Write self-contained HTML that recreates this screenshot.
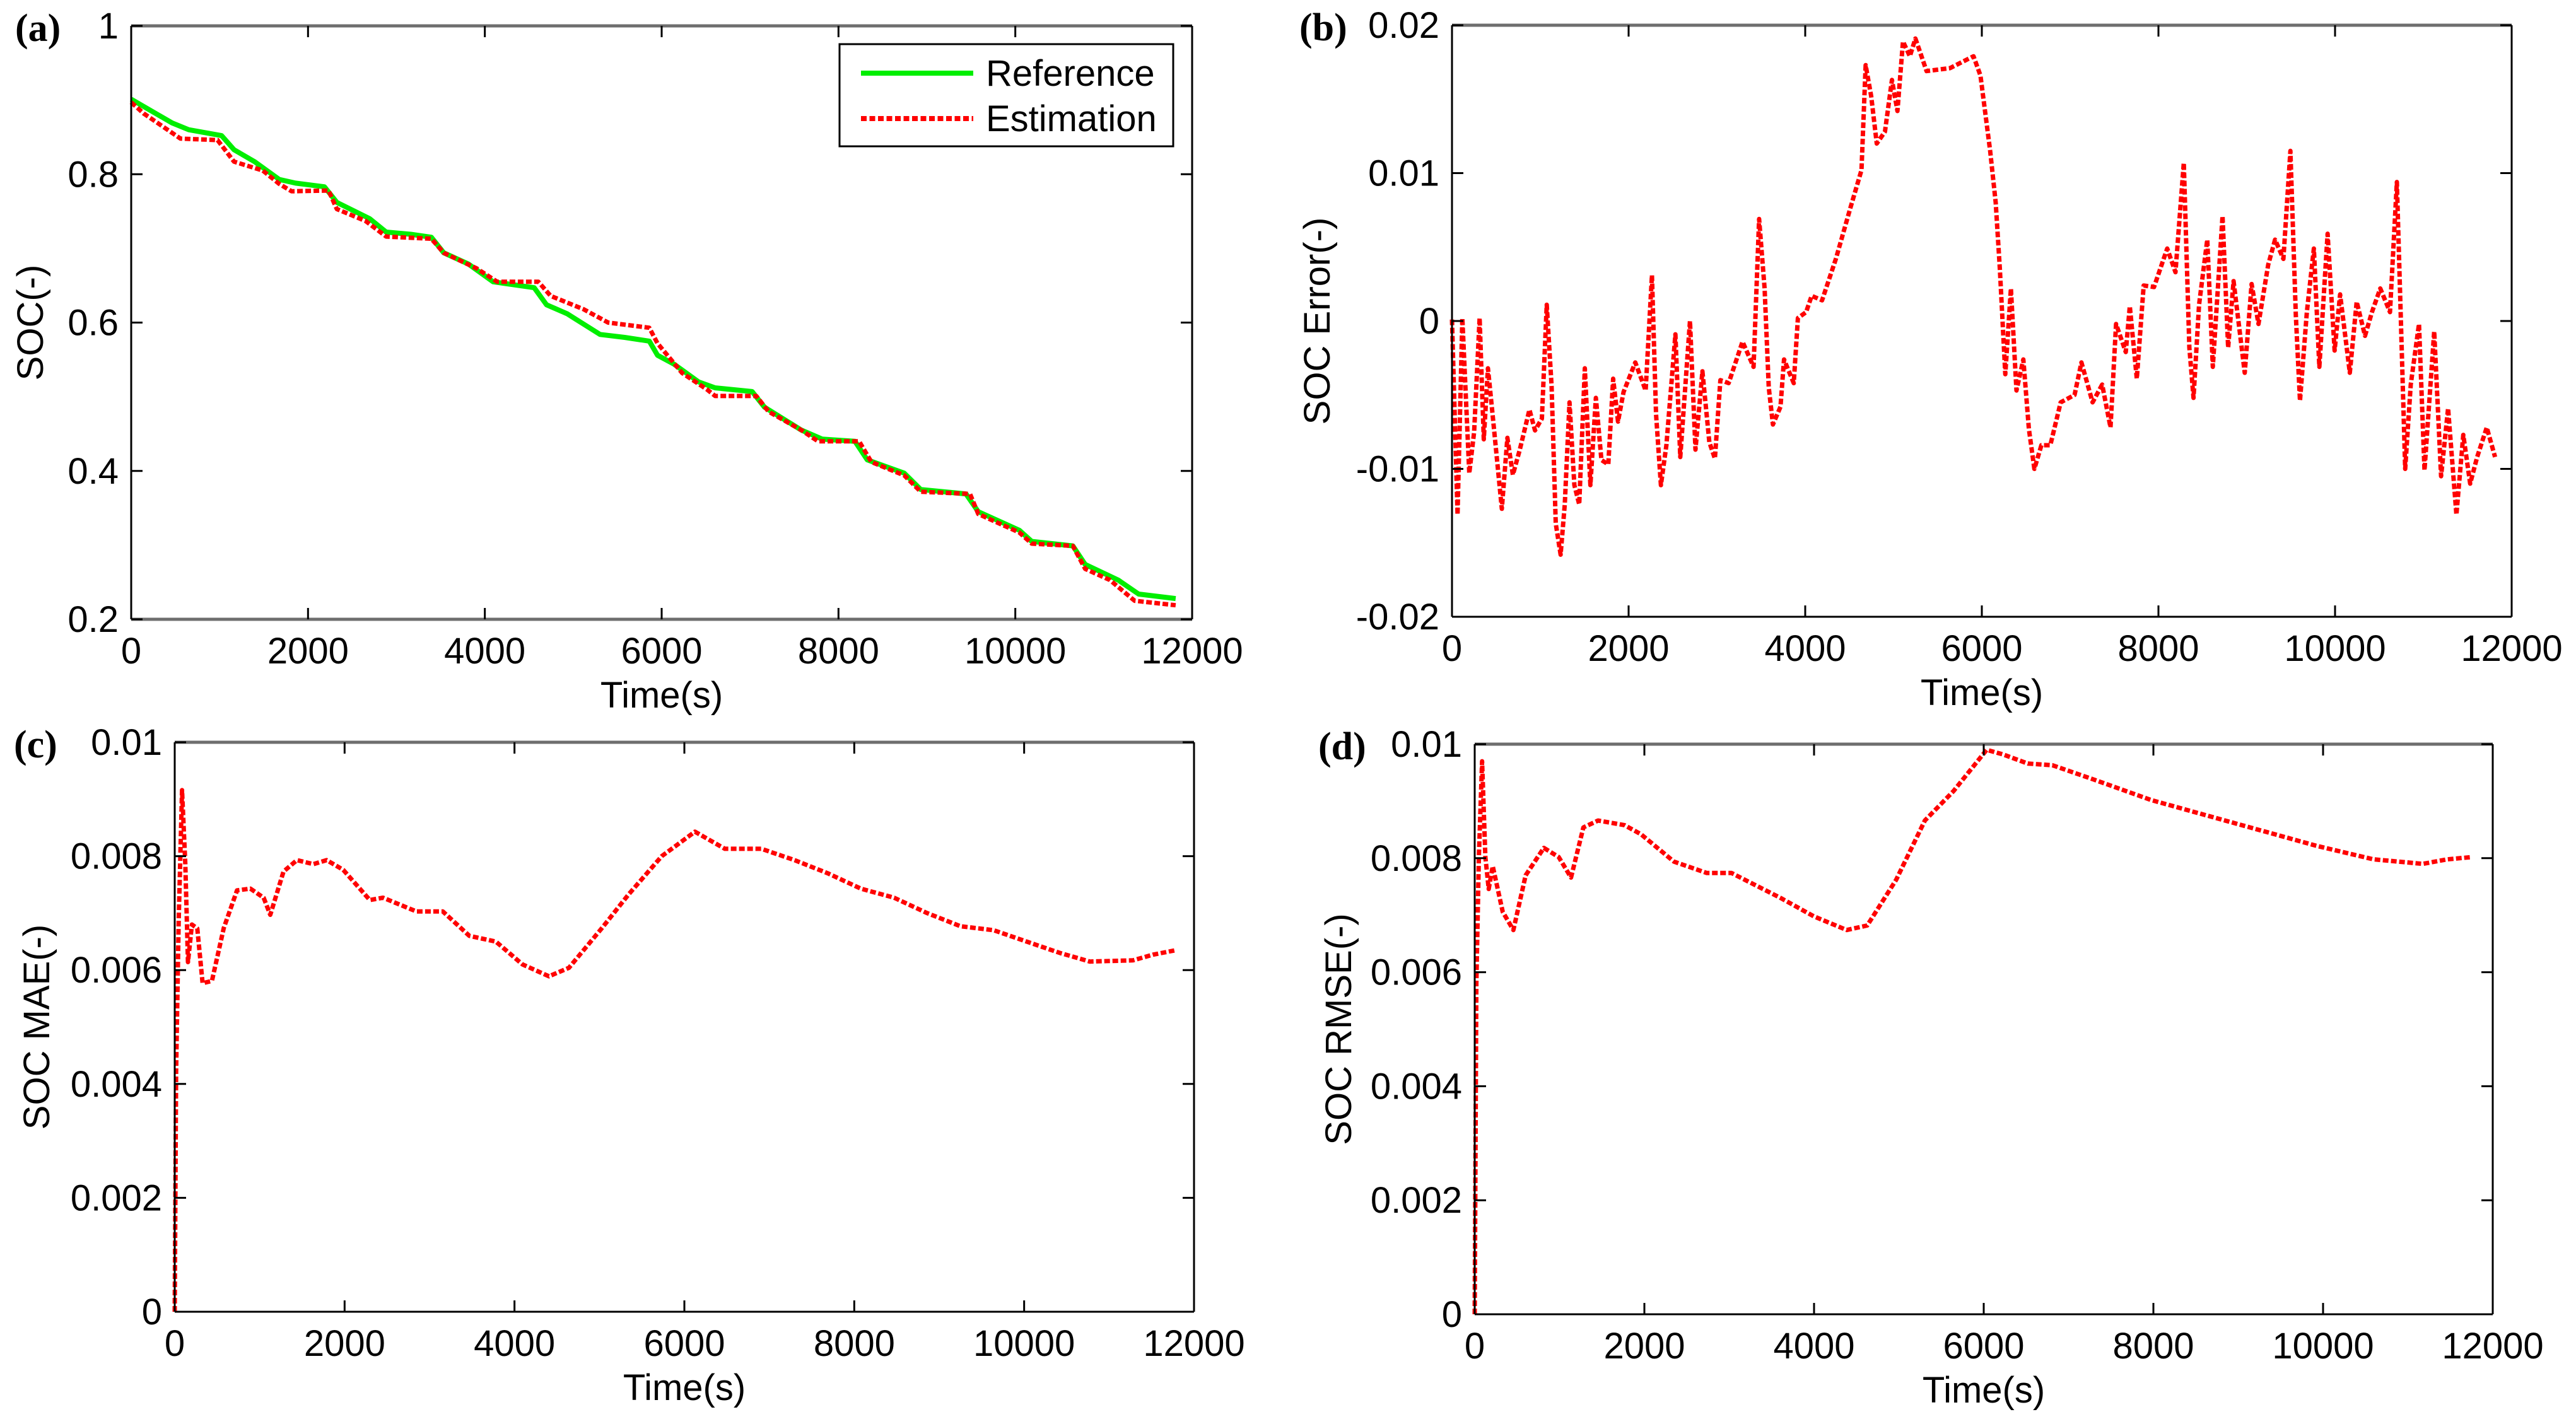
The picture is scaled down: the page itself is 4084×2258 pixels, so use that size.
<!DOCTYPE html>
<html><head><meta charset="utf-8"><style>
html,body{margin:0;padding:0;background:#fff;}
svg{display:block;}
text{font-family:"Liberation Sans",Arial,sans-serif;fill:#000;}
.pl{font-family:"Liberation Serif","Times New Roman",serif;font-weight:bold;}
</style></head><body>
<svg id="fig" width="4084" height="2258" viewBox="0 0 4084 2258" xmlns="http://www.w3.org/2000/svg"></svg>
<script>
// ---- data ----
const xTicks = [0,2000,4000,6000,8000,10000,12000];
const xTickLabels = ["0","2000","4000","6000","8000","10000","12000"];
const socTicks = [0.2,0.4,0.6,0.8,1];
const socTickLabels = ["0.2","0.4","0.6","0.8","1"];
const errTicks = [-0.02,-0.01,0,0.01,0.02];
const errTickLabels = ["-0.02","-0.01","0","0.01","0.02"];
const metricTicks = [0,0.002,0.004,0.006,0.008,0.01];
const metricTickLabels = ["0","0.002","0.004","0.006","0.008","0.01"];

const refTime = [0,465,651,1023,1163,1395,1674,1860,2186,2326,2698,2884,3163,3395,3535,3814,4093,4558,4698,4930,5302,5581,5860,5953,6139,6418,6605,7023,7163,7582,7814,8186,8325,8744,8930,9442,9581,10046,10186,10651,10790,11163,11395,11814];
const refSoc = [0.901,0.869,0.860,0.852,0.833,0.817,0.793,0.788,0.783,0.762,0.740,0.722,0.719,0.715,0.694,0.679,0.655,0.647,0.624,0.612,0.584,0.580,0.575,0.556,0.544,0.520,0.512,0.507,0.486,0.455,0.443,0.440,0.415,0.397,0.375,0.369,0.345,0.320,0.305,0.299,0.274,0.253,0.234,0.228];
const estTime = [0,140,558,977,1163,1488,1674,1814,2232,2326,2651,2884,3395,3535,3907,4140,4605,4744,5116,5395,5860,5953,6232,6511,6605,7070,7209,7582,7767,8233,8372,8744,8930,9488,9581,10046,10186,10651,10790,11070,11349,11814];
const estSoc = [0.897,0.882,0.848,0.846,0.817,0.805,0.787,0.777,0.778,0.753,0.737,0.716,0.713,0.694,0.673,0.655,0.655,0.636,0.618,0.600,0.593,0.572,0.532,0.510,0.501,0.501,0.480,0.455,0.440,0.440,0.412,0.394,0.372,0.369,0.342,0.317,0.302,0.299,0.268,0.253,0.225,0.219];

const errTime = [0,63,117,196,251,313,360,407,454,564,627,689,768,877,940,1018,1073,1128,1175,1230,1277,1331,1386,1441,1504,1567,1629,1692,1770,1825,1880,1943,2076,2193,2264,2311,2366,2428,2530,2585,2695,2757,2836,2914,2977,3039,3133,3290,3415,3478,3540,3587,3634,3720,3760,3870,3917,4010,4073,4191,4347,4504,4637,4684,4747,4810,4903,4982,5044,5107,5185,5248,5374,5640,5906,5984,6094,6157,6204,6266,6329,6392,6470,6533,6595,6674,6776,6893,7050,7128,7254,7363,7457,7520,7630,7676,7755,7833,7950,8099,8193,8287,8350,8397,8460,8553,8616,8726,8789,8851,8977,9055,9133,9243,9321,9415,9494,9556,9603,9681,9760,9822,9916,9995,10057,10167,10245,10339,10418,10512,10622,10700,10794,10857,10951,11013,11123,11201,11280,11374,11452,11530,11609,11718,11812];
const errVal = [0.0001,-0.0131,0.0002,-0.0103,-0.0075,0.0002,-0.0080,-0.0032,-0.0060,-0.0127,-0.0079,-0.0104,-0.0087,-0.0060,-0.0074,-0.0066,0.0011,-0.0044,-0.0137,-0.0158,-0.0124,-0.0055,-0.0111,-0.0124,-0.0032,-0.0111,-0.0052,-0.0094,-0.0097,-0.0039,-0.0068,-0.0048,-0.0028,-0.0047,0.0031,-0.0063,-0.0111,-0.0084,-0.0009,-0.0092,0.0000,-0.0087,-0.0034,-0.0082,-0.0093,-0.0040,-0.0042,-0.0014,-0.0031,0.0069,0.0022,-0.0045,-0.0070,-0.0058,-0.0026,-0.0042,0.0002,0.0006,0.0017,0.0014,0.0042,0.0075,0.0102,0.0173,0.0152,0.0120,0.0128,0.0163,0.0142,0.0189,0.0179,0.0191,0.0169,0.0171,0.0179,0.0166,0.0115,0.0080,0.0035,-0.0036,0.0022,-0.0047,-0.0026,-0.0073,-0.0100,-0.0084,-0.0084,-0.0055,-0.0050,-0.0028,-0.0055,-0.0043,-0.0072,-0.0002,-0.0021,0.0010,-0.0039,0.0024,0.0023,0.0049,0.0033,0.0107,-0.0018,-0.0052,0.0011,0.0055,-0.0031,0.0071,-0.0018,0.0027,-0.0035,0.0025,-0.0002,0.0038,0.0055,0.0042,0.0115,0.0004,-0.0054,0.0006,0.0049,-0.0031,0.0059,-0.0020,0.0018,-0.0035,0.0013,-0.0010,0.0006,0.0022,0.0006,0.0094,-0.0100,-0.0043,-0.0002,-0.0101,-0.0007,-0.0105,-0.0059,-0.0131,-0.0077,-0.0110,-0.0092,-0.0072,-0.0092];

const maeTime = [0,16,47,86,125,156,203,266,328,438,578,734,891,1047,1125,1281,1438,1633,1789,1984,2297,2453,2844,3156,3469,3781,4094,4406,4641,5031,5344,5734,6125,6477,6906,7297,7688,8078,8469,8859,9250,9641,10031,10422,10773,11281,11516,11789];
const maeVal = [0,0.00421,0.00687,0.00916,0.00786,0.00614,0.00680,0.00673,0.00577,0.00581,0.00674,0.00740,0.00743,0.00727,0.00697,0.00773,0.00793,0.00786,0.00793,0.00776,0.00723,0.00727,0.00703,0.00703,0.00660,0.00650,0.00610,0.00589,0.00604,0.00674,0.00733,0.00800,0.00843,0.00813,0.00813,0.00793,0.00770,0.00743,0.00727,0.00700,0.00677,0.00670,0.00650,0.00630,0.00615,0.00617,0.00627,0.00635];

const rmseTime = [0,19,49,87,126,165,213,330,456,601,815,990,1135,1281,1455,1766,1960,2348,2736,3027,3609,3997,4385,4627,4967,5306,5646,6034,6228,6519,6810,7295,7974,8459,8944,9429,9914,10593,11176,11467,11758];
const rmseVal = [0,0.00579,0.00802,0.00970,0.00802,0.00746,0.00786,0.00706,0.00674,0.00770,0.00818,0.00802,0.00766,0.00854,0.00866,0.00858,0.00842,0.00794,0.00774,0.00774,0.00730,0.00698,0.00674,0.00682,0.00762,0.00866,0.00918,0.00990,0.00982,0.00966,0.00963,0.00938,0.00902,0.00882,0.00862,0.00842,0.00822,0.00798,0.00790,0.00798,0.00802];

// ---- drawing ----
const NS = "http://www.w3.org/2000/svg";
const fig = document.getElementById('fig');
function mk(tag, attrs, parent){
  const e = document.createElementNS(NS, tag);
  for (const k in attrs) e.setAttribute(k, attrs[k]);
  (parent||fig).appendChild(e);
  return e;
}
function panel(p){
  const g = mk('g', {});
  
  
  const sx = v => p.L + (v - 0) / 12000 * (p.R - p.L);
  const sy = v => p.B - (v - p.ymin) / (p.ymax - p.ymin) * (p.B - p.T);
  mk('rect', {x:p.L, y:p.T, width:p.R-p.L, height:p.B-p.T, fill:'#fff', stroke:'none'}, g);
  // series
  p.series.forEach(s => {
    let d = '';
    s.t.forEach((t,i) => { d += (i? 'L':'M') + sx(t).toFixed(1) + ',' + sy(s.v[i]).toFixed(1); });
    const path = mk('path', {d:d, fill:'none', stroke:s.color, 'stroke-width':s.w, 'stroke-dasharray':s.dash||'none', 'stroke-linejoin':'round'}, g);
    
    
  });
  // frame
  const fr = mk('g', {}, g);
  
  
  mk('line', {x1:p.L, y1:p.T, x2:p.R, y2:p.T, stroke:'#6e6e6e', 'stroke-width':5}, fr);
  mk('line', {x1:p.L, y1:p.B, x2:p.R, y2:p.B, stroke:p.bottomGrey?'#6e6e6e':'#000', 'stroke-width':p.bottomGrey?5:3}, fr);
  mk('line', {x1:p.L, y1:p.T, x2:p.L, y2:p.B, stroke:'#000', 'stroke-width':3}, fr);
  mk('line', {x1:p.R, y1:p.T, x2:p.R, y2:p.B, stroke:'#000', 'stroke-width':3}, fr);
  // x ticks
  const xa = mk('g', {}, g);
  
  
  xTicks.forEach((t,i) => {
    const x = sx(t);
    mk('line', {x1:x, y1:p.B, x2:x, y2:p.B-18, stroke:'#000','stroke-width':3}, xa);
    mk('line', {x1:x, y1:p.T, x2:x, y2:p.T+18, stroke:'#000','stroke-width':3}, xa);
    const tx = mk('text', {x:x, y:p.B+70, 'font-size':58, 'text-anchor':'middle'}, xa);
    tx.textContent = xTickLabels[i];
    
    
  });
  const xt = mk('text', {x:(p.L+p.R)/2, y:p.B+140, 'font-size':58, 'text-anchor':'middle'}, g);
  xt.textContent = 'Time(s)';
  
  
  // y ticks
  const ya = mk('g', {}, g);
  
  
  p.yt.forEach((v,i) => {
    const y = sy(v);
    mk('line', {x1:p.L, y1:y, x2:p.L+18, y2:y, stroke:'#000','stroke-width':3}, ya);
    mk('line', {x1:p.R, y1:y, x2:p.R-18, y2:y, stroke:'#000','stroke-width':3}, ya);
    const tx = mk('text', {x:p.L-20, y:y+20, 'font-size':58, 'text-anchor':'end'}, ya);
    tx.textContent = p.ytl[i];
    
    
  });
  const yt = mk('text', {x:0, y:0, 'font-size':58, 'text-anchor':'middle', transform:'translate('+p.ytx+','+((p.T+p.B)/2+p.ytdy)+') rotate(-90)'}, g);
  yt.textContent = p.ytitle;
  
  
  const lab = mk('text', {x:p.labx, y:p.T+24, 'font-size':62, class:'pl'}, g);
  lab.textContent = p.label;
  
  
  return g;
}

panel({name:'panel-a-soc', L:208, R:1890, T:41, B:982, ymin:0.2, ymax:1, yt:socTicks, ytl:socTickLabels,
  ytitle:'SOC(-)', ytx:68, ytdy:0, label:'(a)', labx:24, bottomGrey:true,
  series:[{name:'reference-line', t:refTime, v:refSoc, color:'#00ee00', w:8},
          {name:'estimation-line', t:estTime, v:estSoc, color:'#ff0000', w:7, dash:'9,4'}]});
panel({name:'panel-b-error', L:2302, R:3982, T:40, B:978, ymin:-0.02, ymax:0.02, yt:errTicks, ytl:errTickLabels,
  ytitle:'SOC Error(-)', ytx:2108, ytdy:0, label:'(b)', labx:2060, bottomGrey:false,
  series:[{name:'error-line', t:errTime, v:errVal, color:'#ff0000', w:7, dash:'9,4'}]});
panel({name:'panel-c-mae', L:277, R:1893, T:1177, B:2080, ymin:0, ymax:0.01, yt:metricTicks, ytl:metricTickLabels,
  ytitle:'SOC MAE(-)', ytx:78, ytdy:0, label:'(c)', labx:22, bottomGrey:false,
  series:[{name:'mae-line', t:maeTime, v:maeVal, color:'#ff0000', w:7, dash:'9,4'}]});
panel({name:'panel-d-rmse', L:2338, R:3952, T:1180, B:2084, ymin:0, ymax:0.01, yt:metricTicks, ytl:metricTickLabels,
  ytitle:'SOC RMSE(-)', ytx:2142, ytdy:0, label:'(d)', labx:2090, bottomGrey:false,
  series:[{name:'rmse-line', t:rmseTime, v:rmseVal, color:'#ff0000', w:7, dash:'9,4'}]});

// legend
const lg = mk('g', {});


mk('rect', {x:1331, y:70, width:529, height:162, fill:'#fff', stroke:'#000', 'stroke-width':3}, lg);
const l1 = mk('line', {x1:1365, y1:116, x2:1543, y2:116, stroke:'#00ee00', 'stroke-width':8}, lg);


const t1 = mk('text', {x:1563, y:136, 'font-size':58}, lg);
t1.textContent = 'Reference';


const l2 = mk('line', {x1:1365, y1:188, x2:1543, y2:188, stroke:'#ff0000', 'stroke-width':8, 'stroke-dasharray':'9,4.5'}, lg);


const t2 = mk('text', {x:1563, y:208, 'font-size':58}, lg);
t2.textContent = 'Estimation';


</script>
</body></html>
